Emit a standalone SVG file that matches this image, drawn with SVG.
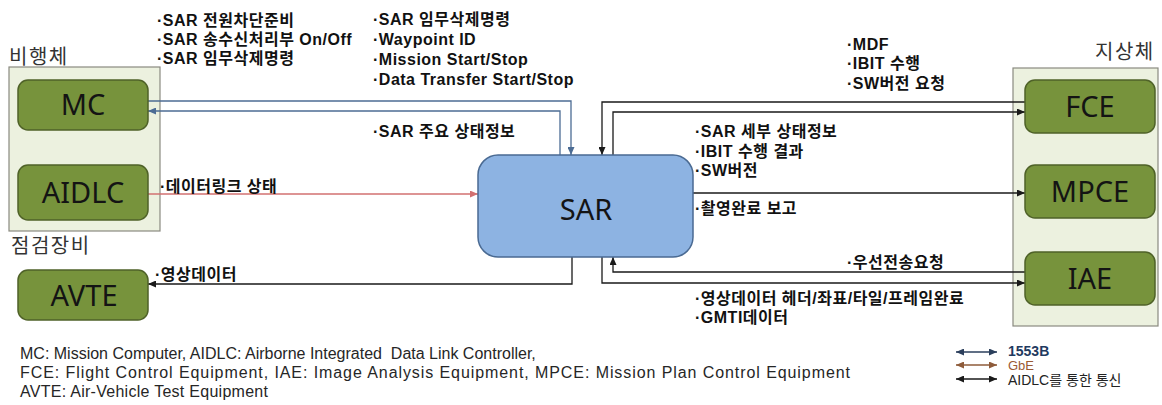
<svg xmlns="http://www.w3.org/2000/svg" width="1162" height="405" viewBox="0 0 1162 405">
  <style>
    .grp { fill: #ECF1DF; stroke: #8A8A80; stroke-width: 1.2; }
    .node { fill: #77933C; stroke: #4F6228; stroke-width: 1.5; }
    .sar { fill: #8DB3E2; stroke: #4A6A92; stroke-width: 1.5; }
    .ntxt { font-family: "Noto Sans", "Open Sans", sans-serif; font-size: 29px; fill: #141414; text-anchor: middle; }
    .gtxt { font-family: "Noto Sans CJK KR", sans-serif; font-size: 20px; fill: #333; letter-spacing: 1.5px; }
    .lbl { font-family: "Liberation Sans", "Noto Sans CJK KR", sans-serif; font-size: 16px; font-weight: bold; fill: #111; letter-spacing: 0.5px; }
    .note { font-family: "Liberation Sans", "Noto Sans CJK KR", sans-serif; font-size: 16px; fill: #262626; }
    .c-blue { fill: none; stroke: #4C6C94; stroke-width: 1.3; }
    .c-red { fill: none; stroke: #D27070; stroke-width: 1.3; }
    .c-blk { fill: none; stroke: #1A1A1A; stroke-width: 1.3; }
  </style>
  <defs>
    <marker id="ah-blue" viewBox="0 0 8 7" refX="8" refY="3.5" markerWidth="8" markerHeight="7" markerUnits="userSpaceOnUse" orient="auto-start-reverse">
      <path d="M0,0 L8,3.5 L0,7 z" fill="#4C6C94"/>
    </marker>
    <marker id="ah-red" viewBox="0 0 8 7" refX="8" refY="3.5" markerWidth="8" markerHeight="7" markerUnits="userSpaceOnUse" orient="auto-start-reverse">
      <path d="M0,0 L8,3.5 L0,7 z" fill="#D27070"/>
    </marker>
    <marker id="ah-blk" viewBox="0 0 8 7" refX="8" refY="3.5" markerWidth="8" markerHeight="7" markerUnits="userSpaceOnUse" orient="auto-start-reverse">
      <path d="M0,0 L8,3.5 L0,7 z" fill="#1A1A1A"/>
    </marker>
    <marker id="ah-navy" viewBox="0 0 8 7" refX="8" refY="3.5" markerWidth="8" markerHeight="7" markerUnits="userSpaceOnUse" orient="auto-start-reverse">
      <path d="M0,0 L8,3.5 L0,7 z" fill="#2B3F5C"/>
    </marker>
    <marker id="ah-brown" viewBox="0 0 8 7" refX="8" refY="3.5" markerWidth="8" markerHeight="7" markerUnits="userSpaceOnUse" orient="auto-start-reverse">
      <path d="M0,0 L8,3.5 L0,7 z" fill="#8E5B3A"/>
    </marker>
  </defs>

  <rect width="1162" height="405" fill="#FFFFFF"/>

  <!-- group containers -->
  <g id="air-vehicle">
    <text class="gtxt" x="9" y="64">비행체</text>
    <rect class="grp" x="9" y="67" width="151" height="164"/>
  </g>
  <g id="test-equipment">
    <text class="gtxt" x="11" y="253">점검장비</text>
  </g>
  <g id="ground">
    <text class="gtxt" x="1095" y="59">지상체</text>
    <rect class="grp" x="1013" y="68" width="145" height="258"/>
  </g>

  <!-- connectors -->
  <g id="connectors">
    <path class="c-blue" d="M148,101 H571 V155" marker-end="url(#ah-blue)"/>
    <path class="c-blue" d="M560,155 V111 H148" marker-end="url(#ah-blue)"/>
    <path class="c-red" d="M148,194 H478" marker-end="url(#ah-red)"/>
    <path class="c-blk" d="M1025,102 H602 V155" marker-end="url(#ah-blk)"/>
    <path class="c-blk" d="M613,155 V112 H1025" marker-end="url(#ah-blk)"/>
    <path class="c-blk" d="M693,193 H1025" marker-end="url(#ah-blk)"/>
    <path class="c-blk" d="M1025,272 H613 V257" marker-end="url(#ah-blk)"/>
    <path class="c-blk" d="M602,257 V283 H1025" marker-end="url(#ah-blk)"/>
    <path class="c-blk" d="M572,257 V284 H148" marker-end="url(#ah-blk)" stroke="#333"/>
  </g>

  <!-- nodes -->
  <g id="MC">
    <rect class="node" x="18" y="80" width="130" height="50" rx="10"/>
    <text class="ntxt" x="83" y="115">MC</text>
  </g>
  <g id="AIDLC">
    <rect class="node" x="18" y="165" width="130" height="55" rx="10"/>
    <text class="ntxt" x="83" y="203">AIDLC</text>
  </g>
  <g id="AVTE">
    <rect class="node" x="18" y="270" width="130" height="50" rx="10"/>
    <text class="ntxt" x="84" y="306" font-size="31">AVTE</text>
  </g>
  <g id="SAR">
    <rect class="sar" x="478" y="155" width="215" height="102" rx="20"/>
    <text class="ntxt" x="586" y="220" font-size="38" fill="#14213A">SAR</text>
  </g>
  <g id="FCE">
    <rect class="node" x="1025" y="80" width="130" height="53" rx="10"/>
    <text class="ntxt" x="1090" y="117">FCE</text>
  </g>
  <g id="MPCE">
    <rect class="node" x="1025" y="165" width="130" height="53" rx="10"/>
    <text class="ntxt" x="1090" y="202">MPCE</text>
  </g>
  <g id="IAE">
    <rect class="node" x="1025" y="252" width="130" height="53" rx="10"/>
    <text class="ntxt" x="1090" y="289">IAE</text>
  </g>

  <!-- message labels -->
  <g id="labels">
    <text class="lbl" x="157" y="26">·SAR 전원차단준비</text>
    <text class="lbl" x="157" y="45">·SAR 송수신처리부 On/Off</text>
    <text class="lbl" x="157" y="64">·SAR 임무삭제명령</text>

    <text class="lbl" x="373" y="25">·SAR 임무삭제명령</text>
    <text class="lbl" x="373" y="45">·Waypoint ID</text>
    <text class="lbl" x="373" y="65">·Mission Start/Stop</text>
    <text class="lbl" x="373" y="85">·Data Transfer Start/Stop</text>

    <text class="lbl" x="373" y="137">·SAR 주요 상태정보</text>
    <text class="lbl" x="160" y="192">·데이터링크 상태</text>
    <text class="lbl" x="155" y="280">·영상데이터</text>

    <text class="lbl" x="847" y="50">·MDF</text>
    <text class="lbl" x="847" y="69">·IBIT 수행</text>
    <text class="lbl" x="847" y="89">·SW버전 요청</text>

    <text class="lbl" x="695" y="137">·SAR 세부 상태정보</text>
    <text class="lbl" x="695" y="157">·IBIT 수행 결과</text>
    <text class="lbl" x="695" y="176">·SW버전</text>

    <text class="lbl" x="695" y="214">·촬영완료 보고</text>
    <text class="lbl" x="847" y="268">·우선전송요청</text>
    <text class="lbl" x="695" y="304">·영상데이터 헤더/좌표/타일/프레임완료</text>
    <text class="lbl" x="695" y="323">·GMTI데이터</text>
  </g>

  <!-- abbreviations -->
  <g id="notes">
    <text class="note" x="20" y="359" xml:space="preserve">MC: Mission Computer, AIDLC: Airborne Integrated  Data Link Controller,</text>
    <text class="note" x="20" y="378" textLength="830" lengthAdjust="spacing">FCE: Flight Control Equipment, IAE: Image Analysis Equipment, MPCE: Mission Plan Control Equipment</text>
    <text class="note" x="20" y="397" textLength="248" lengthAdjust="spacing">AVTE: Air-Vehicle Test Equipment</text>
  </g>

  <!-- legend -->
  <g id="legend">
    <path d="M956,352 H997" fill="none" stroke="#2B3F5C" stroke-width="1.5" marker-start="url(#ah-navy)" marker-end="url(#ah-navy)"/>
    <path d="M956,365 H997" fill="none" stroke="#8E5B3A" stroke-width="1.5" marker-start="url(#ah-brown)" marker-end="url(#ah-brown)"/>
    <path d="M956,379 H997" fill="none" stroke="#1A1A1A" stroke-width="1.5" marker-start="url(#ah-blk)" marker-end="url(#ah-blk)"/>
    <text x="1008" y="356" font-family="Liberation Sans, sans-serif" font-size="14" font-weight="bold" fill="#1F3A60">1553B</text>
    <text x="1008" y="369.5" font-family="Liberation Sans, sans-serif" font-size="13" fill="#9A5A35">GbE</text>
    <text x="1008" y="385" font-family="Liberation Sans, 'Noto Sans CJK KR', sans-serif" font-size="14" fill="#222">AIDLC를 통한 통신</text>
  </g>
</svg>
